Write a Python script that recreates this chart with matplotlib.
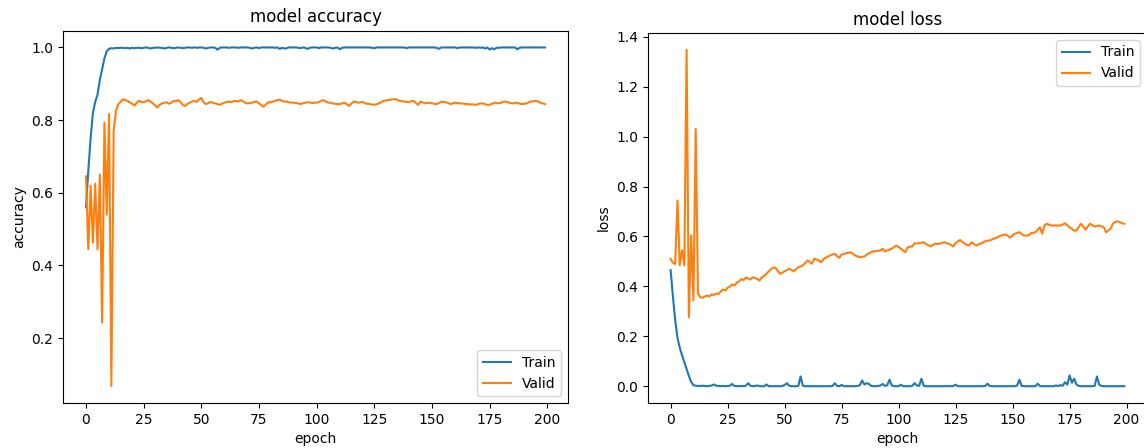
# training curves: accuracy and loss per epoch

import matplotlib
matplotlib.use("Agg")
import matplotlib.pyplot as plt
import numpy as np

train_acc = [
    0.560, 0.660, 0.750, 0.820, 0.850, 0.870, 0.910, 0.940, 0.970, 0.990,
    0.996, 0.998, 0.997, 0.999, 0.998, 0.999, 0.999, 0.998, 0.999, 0.997,
    0.999, 0.998, 0.999, 0.999, 0.998, 0.999, 1.000, 0.999, 0.997, 0.999,
    0.999, 1.000, 0.999, 0.999, 0.997, 0.999, 1.000, 0.999, 0.998, 0.999,
    1.000, 0.999, 0.998, 0.999, 1.000, 1.000, 0.999, 1.000, 0.999, 1.000,
    1.000, 0.999, 0.997, 0.999, 1.000, 1.000, 0.999, 0.994, 0.999, 1.000,
    1.000, 1.000, 0.999, 1.000, 1.000, 1.000, 0.999, 1.000, 1.000, 1.000,
    1.000, 0.999, 0.997, 0.999, 1.000, 0.998, 1.000, 1.000, 1.000, 1.000,
    1.000, 1.000, 0.999, 1.000, 0.996, 0.999, 0.997, 0.998, 1.000, 1.000,
    1.000, 1.000, 0.999, 0.998, 1.000, 0.999, 0.996, 0.999, 1.000, 1.000,
    1.000, 0.998, 1.000, 1.000, 1.000, 1.000, 0.999, 0.997, 0.999, 1.000,
    0.995, 0.999, 1.000, 1.000, 1.000, 1.000, 1.000, 1.000, 1.000, 1.000,
    1.000, 1.000, 1.000, 1.000, 0.999, 0.998, 1.000, 1.000, 1.000, 1.000,
    1.000, 1.000, 1.000, 1.000, 1.000, 1.000, 1.000, 1.000, 1.000, 0.998,
    1.000, 1.000, 1.000, 1.000, 1.000, 1.000, 1.000, 1.000, 1.000, 1.000,
    1.000, 1.000, 0.999, 0.996, 1.000, 1.000, 1.000, 1.000, 1.000, 1.000,
    1.000, 0.998, 1.000, 1.000, 1.000, 1.000, 1.000, 1.000, 1.000, 0.999,
    1.000, 0.999, 1.000, 0.997, 1.000, 0.994, 0.998, 0.995, 0.999, 0.999,
    1.000, 1.000, 1.000, 1.000, 1.000, 1.000, 1.000, 0.995, 0.999, 1.000,
    1.000, 1.000, 1.000, 1.000, 1.000, 1.000, 1.000, 1.000, 1.000, 1.000,
]

valid_acc = [
    0.645, 0.445, 0.620, 0.463, 0.625, 0.445, 0.650, 0.243, 0.793, 0.540,
    0.817, 0.068, 0.770, 0.826, 0.844, 0.850, 0.857, 0.855, 0.853, 0.849,
    0.845, 0.840, 0.848, 0.853, 0.850, 0.849, 0.852, 0.855, 0.851, 0.846,
    0.840, 0.835, 0.842, 0.846, 0.848, 0.849, 0.845, 0.848, 0.853, 0.852,
    0.855, 0.850, 0.841, 0.839, 0.845, 0.848, 0.851, 0.853, 0.850, 0.857,
    0.861, 0.849, 0.844, 0.847, 0.850, 0.848, 0.846, 0.844, 0.842, 0.845,
    0.848, 0.850, 0.851, 0.849, 0.852, 0.853, 0.851, 0.855, 0.852, 0.848,
    0.846, 0.847, 0.848, 0.850, 0.851, 0.846, 0.841, 0.837, 0.843, 0.849,
    0.849, 0.851, 0.853, 0.855, 0.856, 0.853, 0.851, 0.851, 0.849, 0.848,
    0.848, 0.847, 0.846, 0.844, 0.846, 0.848, 0.849, 0.849, 0.847, 0.848,
    0.848, 0.850, 0.853, 0.855, 0.851, 0.848, 0.848, 0.846, 0.845, 0.844,
    0.844, 0.846, 0.848, 0.844, 0.839, 0.845, 0.851, 0.850, 0.848, 0.849,
    0.850, 0.846, 0.845, 0.844, 0.843, 0.842, 0.844, 0.846, 0.849, 0.853,
    0.854, 0.855, 0.856, 0.857, 0.858, 0.856, 0.853, 0.852, 0.851, 0.850,
    0.849, 0.852, 0.853, 0.847, 0.842, 0.851, 0.849, 0.846, 0.847, 0.848,
    0.846, 0.845, 0.844, 0.847, 0.851, 0.850, 0.849, 0.847, 0.844, 0.846,
    0.848, 0.847, 0.846, 0.846, 0.845, 0.844, 0.844, 0.843, 0.843, 0.842,
    0.844, 0.846, 0.846, 0.844, 0.842, 0.842, 0.845, 0.848, 0.847, 0.846,
    0.848, 0.850, 0.851, 0.849, 0.847, 0.846, 0.847, 0.848, 0.845, 0.844,
    0.845, 0.846, 0.849, 0.851, 0.852, 0.853, 0.851, 0.848, 0.846, 0.844,
]

train_loss = [
    0.465, 0.360, 0.265, 0.195, 0.155, 0.125, 0.097, 0.070, 0.042, 0.018,
    0.005, 0.003, 0.002, 0.002, 0.003, 0.002, 0.001, 0.002, 0.004, 0.008,
    0.003, 0.002, 0.001, 0.002, 0.001, 0.002, 0.003, 0.010, 0.002, 0.001,
    0.001, 0.002, 0.001, 0.003, 0.013, 0.003, 0.001, 0.002, 0.004, 0.001,
    0.001, 0.001, 0.008, 0.001, 0.001, 0.001, 0.001, 0.001, 0.001, 0.002,
    0.006, 0.013, 0.003, 0.001, 0.001, 0.001, 0.002, 0.040, 0.003, 0.001,
    0.001, 0.001, 0.001, 0.001, 0.001, 0.001, 0.001, 0.001, 0.001, 0.001,
    0.001, 0.002, 0.013, 0.002, 0.001, 0.006, 0.001, 0.001, 0.001, 0.001,
    0.001, 0.001, 0.002, 0.005, 0.024, 0.008, 0.013, 0.010, 0.002, 0.001,
    0.001, 0.002, 0.004, 0.010, 0.002, 0.005, 0.027, 0.004, 0.001, 0.001,
    0.001, 0.007, 0.001, 0.001, 0.001, 0.001, 0.003, 0.013, 0.004, 0.002,
    0.031, 0.003, 0.001, 0.001, 0.001, 0.001, 0.001, 0.001, 0.001, 0.001,
    0.001, 0.001, 0.001, 0.001, 0.002, 0.007, 0.001, 0.001, 0.001, 0.001,
    0.001, 0.001, 0.001, 0.001, 0.001, 0.001, 0.001, 0.001, 0.002, 0.011,
    0.002, 0.001, 0.001, 0.001, 0.001, 0.001, 0.001, 0.001, 0.001, 0.001,
    0.001, 0.001, 0.004, 0.027, 0.002, 0.001, 0.001, 0.001, 0.001, 0.001,
    0.001, 0.011, 0.002, 0.001, 0.001, 0.001, 0.001, 0.001, 0.001, 0.004,
    0.002, 0.005, 0.003, 0.017, 0.007, 0.044, 0.015, 0.031, 0.008, 0.002,
    0.001, 0.001, 0.001, 0.001, 0.001, 0.001, 0.002, 0.040, 0.007, 0.002,
    0.001, 0.001, 0.001, 0.001, 0.001, 0.001, 0.001, 0.001, 0.001, 0.001,
]

valid_loss = [
    0.510, 0.495, 0.490, 0.744, 0.485, 0.545, 0.485, 1.347, 0.277, 0.604,
    0.344, 1.030, 0.371, 0.357, 0.355, 0.360, 0.364, 0.360, 0.368, 0.366,
    0.372, 0.370, 0.380, 0.388, 0.384, 0.395, 0.400, 0.408, 0.404, 0.415,
    0.420, 0.430, 0.425, 0.436, 0.432, 0.428, 0.437, 0.434, 0.430, 0.424,
    0.437, 0.442, 0.451, 0.460, 0.470, 0.475, 0.475, 0.462, 0.451, 0.455,
    0.461, 0.466, 0.471, 0.466, 0.461, 0.470, 0.477, 0.480, 0.484, 0.494,
    0.504, 0.498, 0.491, 0.511, 0.508, 0.504, 0.497, 0.509, 0.515, 0.520,
    0.524, 0.528, 0.531, 0.521, 0.515, 0.528, 0.530, 0.533, 0.535, 0.537,
    0.530, 0.524, 0.520, 0.517, 0.519, 0.520, 0.527, 0.533, 0.537, 0.541,
    0.541, 0.543, 0.544, 0.551, 0.541, 0.544, 0.547, 0.552, 0.557, 0.564,
    0.558, 0.551, 0.544, 0.537, 0.557, 0.559, 0.560, 0.573, 0.572, 0.573,
    0.575, 0.577, 0.570, 0.565, 0.560, 0.566, 0.571, 0.570, 0.571, 0.574,
    0.577, 0.574, 0.571, 0.566, 0.560, 0.573, 0.580, 0.586, 0.578, 0.571,
    0.566, 0.564, 0.577, 0.570, 0.564, 0.568, 0.571, 0.576, 0.581, 0.583,
    0.584, 0.588, 0.592, 0.595, 0.600, 0.604, 0.606, 0.608, 0.602, 0.595,
    0.605, 0.611, 0.614, 0.617, 0.610, 0.604, 0.604, 0.604, 0.613, 0.615,
    0.617, 0.627, 0.637, 0.611, 0.645, 0.651, 0.647, 0.644, 0.644, 0.644,
    0.644, 0.644, 0.648, 0.653, 0.645, 0.637, 0.630, 0.624, 0.624, 0.638,
    0.651, 0.640, 0.627, 0.640, 0.651, 0.645, 0.640, 0.642, 0.644, 0.641,
    0.637, 0.617, 0.624, 0.631, 0.651, 0.658, 0.661, 0.657, 0.653, 0.651,
]

epochs = np.arange(len(train_acc))

fig = plt.figure(figsize=(11.44, 4.48), dpi=100)
ax1 = fig.add_axes([0.0551, 0.1004, 0.4414, 0.8315])
ax2 = fig.add_axes([0.5664, 0.1004, 0.4362, 0.8260])

ax1.plot(epochs, train_acc, label="Train")
ax1.plot(epochs, valid_acc, label="Valid")
ax1.set_title("model accuracy")
ax1.set_xlabel("epoch")
ax1.set_ylabel("accuracy")
ax1.legend(loc="lower right")

ax2.plot(epochs, train_loss, label="Train")
ax2.plot(epochs, valid_loss, label="Valid")
ax2.set_title("model loss")
ax2.set_xlabel("epoch")
ax2.set_ylabel("loss")
ax2.legend(loc="upper right")

fig.savefig("out.png", dpi=100)
